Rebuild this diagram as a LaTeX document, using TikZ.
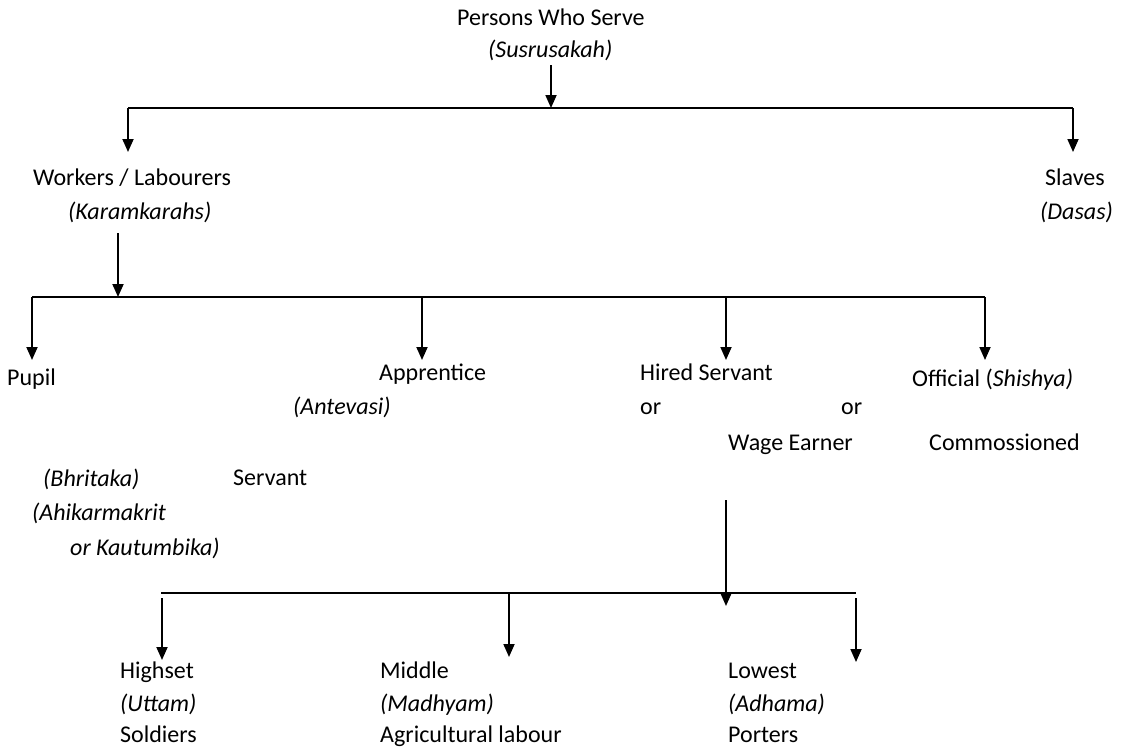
\documentclass[tikz,border=0pt]{standalone}
\usepackage{fontspec}
\setmainfont{Carlito}
\usetikzlibrary{arrows.meta}
\begin{document}
\begin{tikzpicture}[x=1pt,y=-1pt,
  lbl/.style={anchor=base west,inner sep=0pt,font=\fontsize{24}{28}\selectfont},
  arr/.style={line width=1.8pt,-{Triangle[width=11pt,length=13pt]}},
  ln/.style={line width=1.8pt}]
\useasboundingbox (0,0) rectangle (1122,748);
% top
\node[lbl] (pws) at (457,25) {Persons Who Serve};
\node[lbl] (sus) at (488,57) {\itshape (Susrusakah)};
\coordinate (t1) at (551,65);
\coordinate (b1) at (551,108);
\coordinate (b1l) at (128,108);
\coordinate (b1r) at (1073,108);
\draw[arr] (t1) -- (b1);
\draw[ln] (b1l) -- (b1r);
\coordinate (wt) at (128,152);
\coordinate (st) at (1073,152);
\draw[arr] (b1l) -- (wt);
\draw[arr] (b1r) -- (st);
\node[lbl] (wl) at (33,185) {Workers / Labourers};
\node[lbl] (kar) at (68,219) {\itshape (Karamkarahs)};
\node[lbl] (sl) at (1045,185) {Slaves};
\node[lbl] (das) at (1040,219) {\itshape (Dasas)};
% second tier
\coordinate (t2) at (118,233);
\coordinate (b2) at (118,297);
\coordinate (b2l) at (32,297);
\coordinate (b2r) at (985,297);
\draw[arr] (t2) -- (b2);
\draw[ln] (b2l) -- (b2r);
\coordinate (b2a) at (422,297);
\coordinate (b2h) at (726,297);
\coordinate (pt) at (32,360);
\coordinate (at) at (422,360);
\coordinate (ht) at (726,360);
\coordinate (ot) at (985,360);
\draw[arr] (b2l) -- (pt);
\draw[arr] (b2a) -- (at);
\draw[arr] (b2h) -- (ht);
\draw[arr] (b2r) -- (ot);
\node[lbl] (pup) at (7,385) {Pupil};
\node[lbl] (app) at (379,380) {Apprentice};
\node[lbl] (ant) at (293,414) {\itshape (Antevasi)};
\node[lbl] (hs) at (640,380) {Hired Servant};
\node[lbl] (or1) at (640,414) {or};
\node[lbl] (or2) at (841,414) {or};
\node[lbl] (we) at (728,450) {Wage Earner};
\node[lbl] (off) at (912,386) {Official (\textit{Shishya)}};
\node[lbl] (com) at (929,450) {Commossioned};
\node[lbl] (bhr) at (43,486) {\itshape (Bhritaka)};
\node[lbl] (ser) at (233,485) {Servant};
\node[lbl] (ahi) at (32,520) {\itshape (Ahikarmakrit};
\node[lbl] (kau) at (70,555) {\itshape or Kautumbika)};
% third tier
\coordinate (t3) at (726,500);
\coordinate (b3) at (726,606);
\coordinate (b3l) at (161,593);
\coordinate (b3r) at (856,593);
\draw[arr] (t3) -- (b3);
\draw[ln] (b3l) -- (b3r);
\coordinate (h3s) at (162,598);
\coordinate (h3t) at (162,660);
\coordinate (m3s) at (509,593);
\coordinate (m3t) at (509,657);
\coordinate (l3s) at (856,598);
\coordinate (l3t) at (856,662);
\draw[arr] (h3s) -- (h3t);
\draw[arr] (m3s) -- (m3t);
\draw[arr] (l3s) -- (l3t);
\node[lbl] (hi) at (120,678) {Highset};
\node[lbl] (utt) at (120,711) {\itshape (Uttam)};
\node[lbl] (sol) at (120,742) {Soldiers};
\node[lbl] (mid) at (380,678) {Middle};
\node[lbl] (mad) at (380,711) {\itshape (Madhyam)};
\node[lbl] (agr) at (380,742) {Agricultural labour};
\node[lbl] (low) at (728,678) {Lowest};
\node[lbl] (adh) at (728,711) {\itshape (Adhama)};
\node[lbl] (por) at (728,742) {Porters};
\end{tikzpicture}
\end{document}
